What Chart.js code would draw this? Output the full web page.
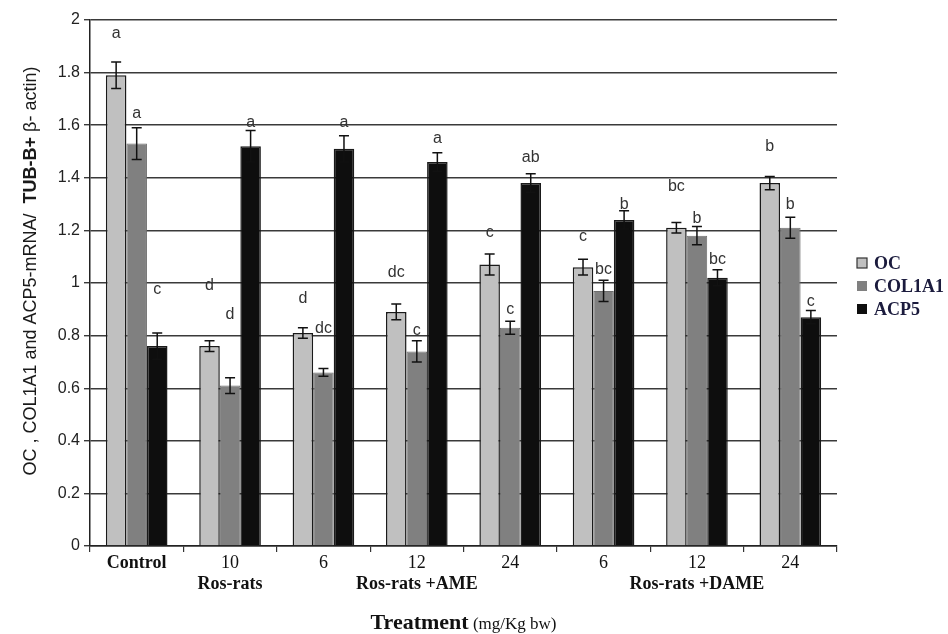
<!DOCTYPE html>
<html>
<head>
<meta charset="utf-8">
<script src="https://cdn.jsdelivr.net/npm/chart.js@4.4.1/dist/chart.umd.min.js"></script>
<style>
  html, body { margin: 0; padding: 0; background: #fff; }
  #wrap { width: 948px; height: 634px; }
</style>
</head>
<body>
<div id="wrap"><canvas id="geneChart" width="948" height="634"></canvas></div>
<script>
// values
const doseLabels = ['Control', '10', '6', '12', '24', '6', '12', '24'];
const groupLabels = ['', 'Ros-rats', '', 'Ros-rats +AME', '', '', 'Ros-rats +DAME', ''];
const seriesNames = ['OC', 'COL1A1', 'ACP5'];

const ocValues = [1.79, 0.76, 0.81, 0.89, 1.07, 1.06, 1.21, 1.38];
const col1a1Values = [1.53, 0.61, 0.66, 0.74, 0.83, 0.97, 1.18, 1.21];
const acp5Values = [0.76, 1.52, 1.51, 1.46, 1.38, 1.24, 1.02, 0.87];

const ocErrors = [0.05, 0.02, 0.02, 0.03, 0.04, 0.03, 0.02, 0.025];
const col1a1Errors = [0.06, 0.03, 0.015, 0.04, 0.025, 0.04, 0.035, 0.04];
const acp5Errors = [0.05, 0.06, 0.05, 0.035, 0.035, 0.035, 0.03, 0.025];

// significance letters and the height (in y units) where each one sits
const ocLetters = ['a', 'd', 'd', 'dc', 'c', 'c', 'bc', 'b'];
const col1a1Letters = ['a', 'd', 'dc', 'c', 'c', 'bc', 'b', 'b'];
const acp5Letters = ['c', 'a', 'a', 'a', 'ab', 'b', 'bc', 'c'];
const ocLetterAt = [1.95, 0.99, 0.94, 1.04, 1.19, 1.175, 1.365, 1.52];
const col1a1LetterAt = [1.645, 0.88, 0.825, 0.82, 0.90, 1.05, 1.245, 1.30];
const acp5LetterAt = [0.975, 1.61, 1.61, 1.55, 1.475, 1.30, 1.09, 0.93];

const barColors = ['#c0c0c0', '#808080', '#0e0e0e'];

const errorSets = [ocErrors, col1a1Errors, acp5Errors];
const letterSets = [ocLetters, col1a1Letters, acp5Letters];
const letterHeights = [ocLetterAt, col1a1LetterAt, acp5LetterAt];

// error bars + letters over each bar
const barExtras = {
    id: 'barExtras',
    afterDatasetsDraw(chart) {
        const ctx = chart.ctx;
        const y = chart.scales.y;
        ctx.save();
        chart.data.datasets.forEach((ds, i) => {
            const meta = chart.getDatasetMeta(i);
            meta.data.forEach((bar, j) => {
                const v = ds.data[j];
                const e = errorSets[i][j];
                const top = y.getPixelForValue(v + e);
                const bot = y.getPixelForValue(v - e);
                ctx.strokeStyle = '#111';
                ctx.lineWidth = 1.5;
                ctx.beginPath();
                ctx.moveTo(bar.x, top); ctx.lineTo(bar.x, bot);
                ctx.moveTo(bar.x - 5, top); ctx.lineTo(bar.x + 5, top);
                ctx.moveTo(bar.x - 5, bot); ctx.lineTo(bar.x + 5, bot);
                ctx.stroke();

                ctx.fillStyle = '#333';
                ctx.font = '16px "Liberation Sans", Arial, sans-serif';
                ctx.textAlign = 'center';
                ctx.textBaseline = 'middle';
                ctx.fillText(letterSets[i][j], bar.x, y.getPixelForValue(letterHeights[i][j]));
            });
        });
        ctx.restore();
    }
};

// x labels (two rows), axis titles and legend
const annotations = {
    id: 'annotations',
    afterDraw(chart) {
        const ctx = chart.ctx;
        const x = chart.scales.x;
        const area = chart.chartArea;
        ctx.save();
        ctx.fillStyle = '#111';
        ctx.textAlign = 'center';
        ctx.textBaseline = 'middle';

        doseLabels.forEach((lab, i) => {
            const px = x.getPixelForValue(i);
            ctx.font = (i === 0 ? 'bold ' : '') + '18px "Liberation Serif", "Times New Roman", serif';
            ctx.fillText(lab, px, area.bottom + 17);
            if (groupLabels[i]) {
                ctx.font = 'bold 18px "Liberation Serif", "Times New Roman", serif';
                ctx.fillText(groupLabels[i], px, area.bottom + 38);
            }
        });

        // x title
        const t1 = 'Treatment';
        const t2 = ' (mg/Kg bw)';
        ctx.font = 'bold 22px "Liberation Serif", serif';
        const w1 = ctx.measureText(t1).width;
        ctx.font = '17px "Liberation Serif", serif';
        const w2 = ctx.measureText(t2).width;
        const cx = (area.left + area.right) / 2;
        let sx = cx - (w1 + w2) / 2;
        ctx.textAlign = 'left';
        ctx.textBaseline = 'alphabetic';
        ctx.font = 'bold 22px "Liberation Serif", serif';
        ctx.fillText(t1, sx, 629);
        ctx.font = '17px "Liberation Serif", serif';
        ctx.fillText(t2, sx + w1, 629);

        // y title, rotated, with bold middle piece
        const parts = [
            ['', 'OC , COL1A1 and ACP5-mRNA/  '],
            ['bold ', 'TUB-B+'],
            ['', ' β- actin)']
        ];
        const f = '18px "Liberation Sans", Arial, sans-serif';
        let total = 0;
        parts.forEach(p => { ctx.font = p[0] + f; total += ctx.measureText(p[1]).width; });
        ctx.translate(31, (area.top + area.bottom) / 2 - 12);
        ctx.rotate(-Math.PI / 2);
        ctx.textBaseline = 'middle';
        ctx.fillStyle = '#1a1a1a';
        let px = -total / 2;
        parts.forEach(p => {
            ctx.font = p[0] + f;
            ctx.fillText(p[1], px, 0);
            px += ctx.measureText(p[1]).width;
        });
        ctx.setTransform(1, 0, 0, 1, 0, 0);

        // legend
        seriesNames.forEach((name, i) => {
            const ly = 263 + i * 23;
            ctx.fillStyle = barColors[i];
            ctx.fillRect(857, ly - 5, 10, 10);
            if (i === 0) {
                ctx.strokeStyle = '#333';
                ctx.lineWidth = 1.2;
                ctx.strokeRect(857, ly - 5, 10, 10);
            }
            ctx.fillStyle = '#1b1b3d';
            ctx.font = 'bold 18px "Liberation Serif", serif';
            ctx.textAlign = 'left';
            ctx.textBaseline = 'middle';
            ctx.fillText(name, 874, ly + 1);
        });
        ctx.restore();
    }
};

const datasets = seriesNames.map((name, i) => ({
    label: name,
    data: [ocValues, col1a1Values, acp5Values][i],
    backgroundColor: barColors[i],
    borderColor: i === 1 ? '#6e6e6e' : '#1a1a1a',
    borderWidth: i === 1 ? 1 : 1.5,
    categoryPercentage: 0.66,
    barPercentage: 1.0
}));

new Chart(document.getElementById('geneChart'), {
    type: 'bar',
    data: { labels: doseLabels, datasets },
    options: {
        responsive: false,
        animation: false,
        layout: { padding: { top: 20, right: 111, left: 0, bottom: 0 } },
        plugins: {
            legend: { display: false },
            tooltip: { enabled: false }
        },
        scales: {
            x: {
                grid: { display: true, drawOnChartArea: false, drawTicks: true, tickLength: 6, color: '#333', lineWidth: 1.2, offset: true },
                border: { display: true, color: '#222', width: 1.5 },
                ticks: { display: false },
                afterFit(s) { s.height = 88; }
            },
            y: {
                min: 0,
                max: 2,
                ticks: {
                    stepSize: 0.2,
                    color: '#222',
                    padding: 4,
                    font: { family: '"Liberation Sans", Arial, sans-serif', size: 16 },
                    callback: v => +v.toFixed(1)
                },
                grid: { color: '#3a3a3a', lineWidth: 1.4, tickLength: 6 },
                border: { display: true, color: '#222', width: 1.5 },
                afterFit(s) { s.width = 90; }
            }
        }
    },
    plugins: [barExtras, annotations]
});
</script>
</body>
</html>
